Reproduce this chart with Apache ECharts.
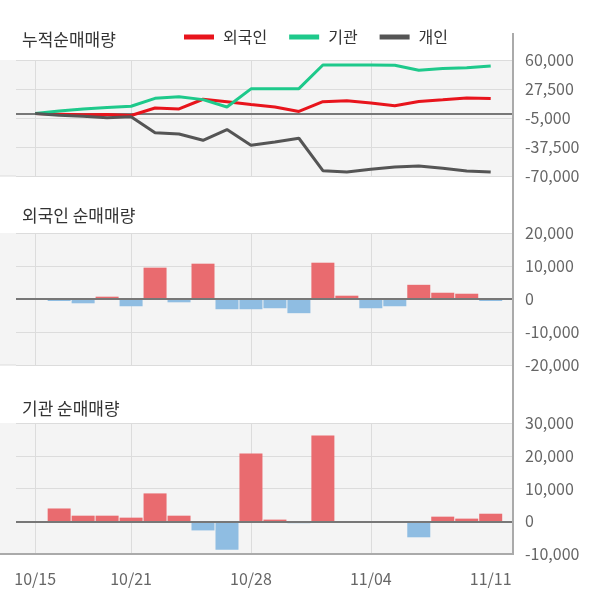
<!DOCTYPE html>
<html><head><meta charset="utf-8">
<script src="https://cdn.jsdelivr.net/npm/echarts@6/dist/echarts.min.js"></script>
<style>html,body{margin:0;padding:0;background:#fff}#c{width:600px;height:604px}</style>
</head><body><div id="c"></div>
<script>
const dates = ['10/15','10/16','10/17','10/18','10/21','10/22','10/23','10/24','10/25','10/28','10/29','10/30','10/31','11/01','11/04','11/05','11/06','11/07','11/08','11/11'];
const foreignCum = [0, -700, -1400, -1000, -2200, 6200, 5200, 16000, 13200, 10200, 7300, 2300, 13300, 14300, 11700, 8800, 13600, 15400, 17400, 16800];
const instCum = [0, 2800, 5000, 6700, 8200, 17000, 18800, 15600, 7300, 27700, 27900, 27900, 54400, 54400, 54400, 54200, 48500, 50500, 51300, 53300];
const indivCum = [0, -2000, -3000, -4800, -3600, -21500, -23000, -30000, -18000, -35500, -32000, -27700, -64000, -65500, -62500, -60000, -58800, -61400, -64400, -65600];
const foreignNet = [0, -600, -1300, 700, -2200, 9500, -1000, 10700, -3100, -3100, -2800, -4300, 11000, 1000, -2800, -2200, 4300, 1900, 1600, -600];
const instNet = [0, 3900, 1700, 1700, 1100, 8500, 1700, -2800, -8700, 20700, 500, -600, 26200, 0, 0, 0, -4900, 1400, 800, 2300];
const seriesNames = ['외국인', '기관', '개인'];
const panelTitles = ['누적순매매량', '외국인 순매매량', '기관 순매매량'];
const topTicks = [-70000, -37500, -5000, 27500, 60000];
const midTicks = [-20000, -10000, 0, 10000, 20000];
const botTicks = [-10000, 0, 10000, 20000, 30000];
const labelIdx = [0, 4, 9, 14, 19];
const gridIdx = [0, 4, 9, 14];

const FONT = 'Noto Sans CJK KR';
const pairs = arr => arr.map((v, i) => [i, v]);
const fmt = v => Math.round(v).toLocaleString('en-US');

const grids = [
  {left: 16, right: 87, top: 60, height: 116},
  {left: 16, right: 87, top: 233, height: 132},
  {left: 16, right: 87, top: 423, height: 131}
];
const tickSets = [topTicks, midTicks, botTicks];

const xAxes = grids.map((g, k) => ({
  type: 'value', gridIndex: k, min: -0.8, max: 19.93,
  axisLine: k === 2 ? {show: true, onZero: false, lineStyle: {color: '#aaa', width: 2}} : {show: false},
  axisTick: {show: false, customValues: gridIdx},
  splitLine: {show: true, lineStyle: {color: '#dcdcdc', width: 1}},
  axisLabel: k === 2 ? {show: true, customValues: labelIdx, formatter: v => dates[v] || '', fontSize: 16, color: '#666', fontFamily: FONT, margin: 17} : {show: false}
}));
const yAxes = grids.map((g, k) => {
  const t = tickSets[k];
  return {
    type: 'value', gridIndex: k, position: 'right',
    min: t[0], max: t[t.length - 1], interval: t[1] - t[0],
    axisLine: {show: false}, axisTick: {show: false},
    splitLine: {show: true, lineStyle: {color: '#dcdcdc', width: 1}},
    axisLabel: {fontSize: 16, color: '#666', fontFamily: FONT, margin: 12, formatter: fmt}
  };
});

const zeroLine = {
  silent: true, symbol: ['none', 'none'], label: {show: false},
  lineStyle: {color: '#777', width: 2, type: 'solid'},
  data: [{yAxis: 0}], animation: false
};
const barColor = p => (p.value[1] >= 0 ? '#e96b6f' : '#8fbde2');

const option = {
  animation: false,
  textStyle: {fontFamily: FONT},
  title: panelTitles.map((t, k) => ({
    text: t, left: 22, top: [31, 207, 400][k], padding: 0,
    textStyle: {fontSize: 17, fontWeight: 'normal', color: '#333', fontFamily: FONT}
  })),
  legend: {
    data: seriesNames, left: 184, top: 29, padding: 0,
    icon: 'rect', itemWidth: 30, itemHeight: 5, itemGap: 22,
    textStyle: {fontSize: 16, color: '#333', fontFamily: FONT, padding: [0, 0, 0, 4]}
  },
  grid: grids,
  xAxis: xAxes,
  yAxis: yAxes,
  graphic: [
    {type: 'rect', z: -10, shape: {x: 0, y: 60, width: 513, height: 116}, style: {fill: '#f4f4f4'}},
    {type: 'rect', z: -10, shape: {x: 0, y: 233, width: 513, height: 132}, style: {fill: '#f4f4f4'}},
    {type: 'rect', z: -10, shape: {x: 0, y: 423, width: 513, height: 131}, style: {fill: '#f4f4f4'}},
    {type: 'line', z: 50, shape: {x1: 0, y1: 176, x2: 16, y2: 176}, style: {stroke: '#dcdcdc', lineWidth: 1}},
    {type: 'line', z: 50, shape: {x1: 0, y1: 365, x2: 16, y2: 365}, style: {stroke: '#dcdcdc', lineWidth: 1}},
    {type: 'line', z: 50, shape: {x1: 0, y1: 554, x2: 16, y2: 554}, style: {stroke: '#aaa', lineWidth: 2}},
    {type: 'line', z: 50, shape: {x1: 513, y1: 33, x2: 513, y2: 555}, style: {stroke: '#aaa', lineWidth: 2}}
  ],
  series: [
    {name: seriesNames[0], type: 'line', xAxisIndex: 0, yAxisIndex: 0, data: pairs(foreignCum), symbol: 'none', color: '#e8141c', lineStyle: {width: 3}, z: 5},
    {name: seriesNames[1], type: 'line', xAxisIndex: 0, yAxisIndex: 0, data: pairs(instCum), symbol: 'none', color: '#1ec98b', lineStyle: {width: 3}, z: 5},
    {name: seriesNames[2], type: 'line', xAxisIndex: 0, yAxisIndex: 0, data: pairs(indivCum), symbol: 'none', color: '#555', lineStyle: {width: 3}, z: 5, markLine: zeroLine},
    {name: 'foreignNet', type: 'bar', xAxisIndex: 1, yAxisIndex: 1, data: pairs(foreignNet), barWidth: 23, itemStyle: {color: barColor}, markLine: zeroLine},
    {name: 'instNet', type: 'bar', xAxisIndex: 2, yAxisIndex: 2, data: pairs(instNet), barWidth: 23, itemStyle: {color: barColor}, markLine: zeroLine}
  ]
};
const chart = echarts.init(document.getElementById('c'), null, {renderer: 'canvas'});
chart.setOption(option);
</script>
</body></html>
